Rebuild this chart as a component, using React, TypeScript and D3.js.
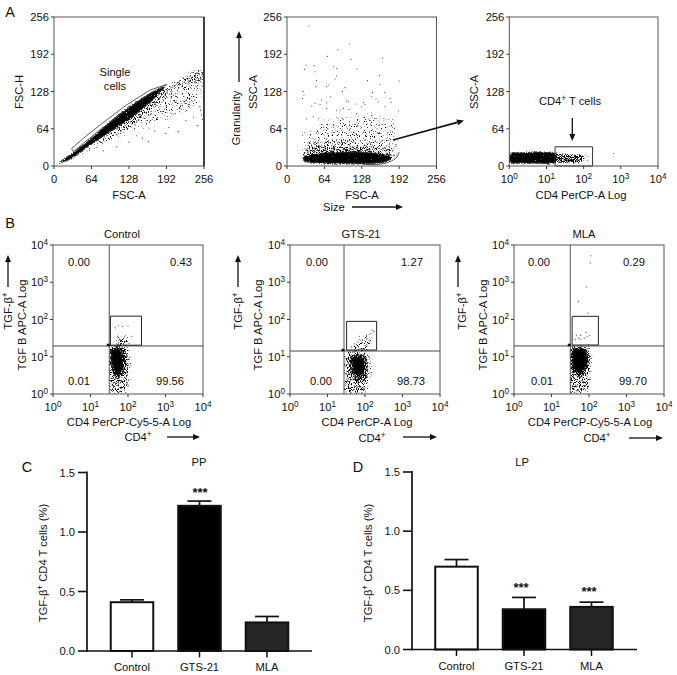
import React from "react";
import * as d3 from "d3";

type P = [number, number];
const FONT = "'Liberation Sans', Arial, sans-serif";

// ---------- linear gating plots (channel units 0-256) ----------
const channelTicks = [0, 64, 128, 192, 256];
const decadeTicks = [0, 1, 2, 3, 4];

// Panel A, FSC-A / FSC-H: outlines of the density regions
const singletGate: P[] = [[30, 30], [50, 47.5], [78.5, 70.4], [124, 105], [164, 130.6], [192, 140], [164, 125], [124, 96], [78.5, 62], [50, 39], [33, 24.6]];
const fscCore: P[] = [[4.5, 3.4], [27, 20], [67, 52], [107, 87], [147, 116], [192, 139], [164, 108], [130, 80], [96, 57], [61, 34], [27, 10]];
const fscSkirt: P[] = [[5, 3], [27, 9], [64, 26], [96, 43], [130, 62], [164, 88], [192, 116], [206, 134], [192, 140], [147, 110], [96, 60], [50, 30]];
const fscFan: P[] = [[70, 30], [110, 46], [150, 58], [190, 74], [225, 90], [254, 100], [256, 155], [235, 162], [205, 144], [170, 112], [110, 65]];
const fscTip: P[] = [[195, 140], [215, 152], [235, 163], [254, 167], [254, 140], [230, 138], [208, 130]];
const fscSparse: P[] = [[212, 59], [191, 56], [161, 42], [141, 52], [158, 73], [175, 82], [252, 88], [244, 69], [207, 90], [215, 99], [235, 113], [249, 102], [224, 108], [204, 113], [181, 102], [246, 70], [107, 33], [128, 41], [84, 26], [253, 80], [250, 96], [238, 84], [225, 78], [196, 66], [172, 60], [151, 48]];

// Panel A, FSC-A / SSC-A
const sscGate: P[] = [[128, 3], [155, 2.5], [175, 7], [188, 15], [192, 24]];
const sscCore: P[] = [[26, 12], [28, 17], [50, 22], [90, 25], [130, 25], [165, 21], [180, 14], [172, 7], [150, 3], [100, 2.5], [50, 4], [30, 7]];
const sscHeavy: P[] = [[27, 7], [27, 30], [60, 36], [100, 33], [140, 32], [180, 26], [192, 20], [185, 8], [150, 3], [60, 3]];
const sscMiddle: P[] = [[27, 12], [27, 42], [60, 50], [100, 48], [140, 46], [182, 40], [194, 30], [190, 14], [150, 8], [60, 8]];
const sscScatter: P[] = [[27, 20], [27, 60], [40, 72], [70, 86], [120, 92], [160, 92], [188, 84], [194, 50], [192, 22], [120, 16]];
const sscSparse: P[] = [[37.7, 240.5], [86.8, 199.8], [106.8, 209.6], [69.1, 188.4], [109.6, 183.2], [163.8, 185], [32.6, 173.5], [46.3, 172.4], [79.4, 170.6], [85.1, 167.8], [119.9, 166.6], [29.7, 166], [48, 162], [158.7, 155.7], [85, 154.6], [82.2, 149.4], [192.4, 146], [50.8, 146.6], [138, 146.6], [70.8, 139.1], [49.7, 136.3], [68, 136.3], [159.3, 140.3], [99.3, 134.6], [27.4, 127.7], [29.1, 122], [26.3, 116.2], [74.8, 119.1], [94.8, 127.7], [146.2, 126], [167.3, 126.5], [145, 119], [152.4, 115], [176.4, 116.2], [59.4, 113.4], [178.1, 109.4], [48, 107.6], [56.5, 105.9], [68, 108.8], [102.2, 112.2], [105, 110.5], [130.7, 109.4], [133.6, 105.9], [118.2, 106.5], [156.4, 110.5], [42.3, 103], [68, 99], [85.1, 96.2], [90.8, 96.2], [96.5, 99], [106.2, 97.3], [119.3, 90.4], [127.9, 101.9], [167.8, 101.9], [190.7, 94.5], [45.1, 84.7], [53.7, 81.9], [33.7, 80.7]];

// Panel A, CD4 / SSC-A (x in decades)
const cd4GateBox: P[] = [[1.23, 33], [2.24, 33], [2.24, 0], [1.23, 0]];
const cd4Left: P[] = [[0, 5], [0, 22], [0.4, 24], [0.9, 25], [1.25, 22], [1.25, 5], [0.7, 3.5], [0.3, 4]];
const cd4Right: P[] = [[1.2, 5], [1.2, 22], [1.6, 22], [1.95, 21], [2.05, 13], [1.95, 5], [1.5, 4]];
const cd4Sparse: P[] = [[2.8, 21.8], [2.1, 10], [2.12, 16], [2.06, 19]];

// Panel B quadrant plots (both axes in decades)
const ctrlGateX = 1.5, ctrlGateY = 1.29;
const ctrlBox: P[] = [[1.53, 2.09], [2.36, 2.09], [2.36, 1.31], [1.53, 1.31]];
const ctrlScatter: P[] = [[1.62, 1.25], [1.68, 1.58], [1.88, 1.65], [2.05, 1.52], [2.08, 1.25]];
const ctrlMedium: P[] = [[1.5, 1.3], [1.5, 0.0], [1.95, 0.0], [2.08, 0.5], [2.1, 1.0], [2.0, 1.3]];
const ctrlHeavy: P[] = [[1.55, 1.27], [1.53, 0.6], [1.7, 0.42], [1.88, 0.45], [1.98, 0.8], [1.93, 1.25]];
const ctrlCore: P[] = [[1.6, 1.23], [1.58, 0.7], [1.7, 0.55], [1.83, 0.62], [1.86, 1.0], [1.8, 1.2]];
const ctrlSparse: P[] = [[1.75, 1.83], [1.85, 1.82], [2.0, 1.83], [1.66, 1.78], [2.1, 1.55]];

const gtsGateX = 1.44, gtsGateY = 1.154;
const gtsBox: P[] = [[1.51, 1.95], [2.31, 1.95], [2.31, 1.18], [1.51, 1.18]];
const gtsScatter: P[] = [[1.55, 1.12], [1.62, 1.38], [1.88, 1.52], [2.14, 1.68], [2.2, 1.38], [2.14, 1.12]];
const gtsMedium: P[] = [[1.44, 1.15], [1.44, 0.0], [2.0, 0.0], [2.18, 0.4], [2.19, 0.9], [2.05, 1.15]];
const gtsHeavy: P[] = [[1.6, 1.06], [1.6, 0.5], [1.78, 0.32], [2.03, 0.4], [2.1, 0.8], [1.98, 1.06]];
const gtsCore: P[] = [[1.7, 0.98], [1.68, 0.64], [1.82, 0.47], [1.98, 0.58], [2.0, 0.85], [1.88, 1.0]];
const gtsSparse: P[] = [[2.2, 1.72], [2.24, 1.68], [2.16, 1.62], [1.85, 1.55], [2.05, 1.5]];

const mlaGateX = 1.5, mlaGateY = 1.29;
const mlaBox: P[] = [[1.55, 2.085], [2.25, 2.085], [2.25, 1.315], [1.55, 1.315]];
const mlaScatter: P[] = [[1.65, 1.27], [1.72, 1.38], [2.0, 1.38], [2.06, 1.27]];
const mlaMedium: P[] = [[1.49, 1.28], [1.49, 0.0], [1.95, 0.0], [2.08, 0.5], [2.1, 1.0], [2.02, 1.28]];
const mlaHeavy: P[] = [[1.52, 1.25], [1.53, 0.6], [1.7, 0.42], [1.9, 0.48], [2.02, 0.85], [1.98, 1.25]];
const mlaCore: P[] = [[1.58, 1.2], [1.57, 0.75], [1.72, 0.58], [1.9, 0.68], [1.95, 1.0], [1.88, 1.2]];
const mlaSparse: P[] = [[2.05, 3.71], [2.03, 3.52], [1.94, 2.87], [1.715, 2.48], [1.97, 2.17], [1.92, 1.655], [1.66, 1.58], [1.78, 1.58], [2.02, 1.57], [1.95, 1.55], [1.87, 1.5], [1.73, 1.5], [1.64, 1.47], [1.78, 1.47]];

// Panels C and D
const barCategories = ["Control", "GTS-21", "MLA"];
const barFills = ["#ffffff", "#000000", "#262626"];
const ppMeans = [0.41, 1.22, 0.24];
const ppUppers = [0.43, 1.26, 0.29];
const lpMeans = [0.7, 0.34, 0.36];
const lpUppers = [0.76, 0.44, 0.4];
const barTicks = [0, 0.5, 1, 1.5];

type Scale = d3.ScaleLinear<number, number>;
const closed = (x: Scale, y: Scale, pts: P[]) =>
  d3.line<P>().x(d => x(d[0])).y(d => y(d[1])).curve(d3.curveCatmullRomClosed.alpha(0.5))(pts) ?? undefined;
const straight = (x: Scale, y: Scale, pts: P[], close = true) =>
  d3.line<P>().x(d => x(d[0])).y(d => y(d[1]))(pts) + (close ? "Z" : "");
const smoothOpen = (x: Scale, y: Scale, pts: P[]) =>
  d3.line<P>().x(d => x(d[0])).y(d => y(d[1])).curve(d3.curveCatmullRom)(pts) ?? undefined;

const T = ({ x, y, size = 11.2, anchor = "middle", rot, children, weight }: any) => (
  <text x={x} y={y} fontSize={size} textAnchor={anchor} dominantBaseline="central" fontWeight={weight}
    fill="#111" transform={rot != null ? `rotate(${rot} ${x} ${y})` : undefined}>{children}</text>
);
const Sup = ({ children }: any) => <tspan dy={-3.5} fontSize={8.2}>{children}</tspan>;
const After = ({ children }: any) => <tspan dy={3.5}>{children}</tspan>;

const Arrow = ({ x1, y1, x2, y2, w = 1.3 }: any) => {
  const a = Math.atan2(y2 - y1, x2 - x1);
  const L = 7, W = 3;
  const bx = x2 - L * Math.cos(a), by = y2 - L * Math.sin(a);
  const nx = -Math.sin(a) * W, ny = Math.cos(a) * W;
  return (
    <g>
      <line x1={x1} y1={y1} x2={bx} y2={by} stroke="#111" strokeWidth={w} />
      <path d={`M${x2},${y2}L${bx + nx},${by + ny}L${bx - nx},${by - ny}Z`} fill="#111" />
    </g>
  );
};

const Frame = ({ x, y, xTicks, yTicks, xPow, yPow }: any) => {
  const [l, r] = x.range();
  const [b, t] = y.range();
  const tick = "#3a3a3a";
  return (
    <g>
      <rect x={l} y={t} width={r - l} height={b - t} fill="none" stroke="#555" strokeWidth={1} />
      {xTicks.map((v: number) => (
        <g key={v}>
          <line x1={x(v)} x2={x(v)} y1={b} y2={b + 3} stroke={tick} />
          <T x={x(v)} y={b + 13}>{xPow ? <>10<Sup>{v}</Sup></> : v}</T>
        </g>
      ))}
      {yTicks.map((v: number) => (
        <g key={v}>
          <line x1={l - 3} x2={l} y1={y(v)} y2={y(v)} stroke={tick} />
          <T x={l - 5} y={y(v)} anchor="end">{yPow ? <>10<Sup>{v}</Sup></> : v}</T>
        </g>
      ))}
    </g>
  );
};

// Stipple texture for the density regions: the coverage follows the blurred outline
const Speck = ({ id, seed, sigma, g, c = 0.85, k = 7 }: any) => (
  <filter id={id} filterUnits="userSpaceOnUse" x={0} y={0} width={677} height={675} colorInterpolationFilters="sRGB">
    <feGaussianBlur in="SourceAlpha" stdDeviation={sigma} result="b" />
    <feTurbulence type="fractalNoise" baseFrequency="0.87" numOctaves={2} seed={seed} result="n" />
    <feColorMatrix in="n" type="matrix" values="0 0 0 0 0  0 0 0 0 0  0 0 0 0 0  1 0 0 0 0" result="na" />
    <feComposite in="b" in2="na" operator="arithmetic" k1={0} k2={g} k3={1} k4={-c} result="s" />
    <feComponentTransfer in="s" result="t"><feFuncA type="linear" slope={k} intercept={0} /></feComponentTransfer>
    <feComposite in="t" in2="b" operator="in" />
  </filter>
);

const Dots = ({ x, y, pts, r = 0.6 }: any) => (
  <g fill="#333">{pts.map((d: P, i: number) => <circle key={i} cx={x(d[0])} cy={y(d[1])} r={r} />)}</g>
);

const Quadrant = ({ left, gateX, gateY, box, scatter, medium, heavy, core, sparse, seed }: any) => {
  const x = d3.scaleLinear().domain([0, 4]).range([left, left + 150]);
  const y = d3.scaleLinear().domain([0, 4]).range([394, 245]);
  return (
    <g>
      <g clipPath={`url(#q${seed})`}>
        <path d={closed(x, y, scatter)} fill="#111" filter={`url(#thin${seed})`} />
        <path d={closed(x, y, medium)} fill="#111" filter={`url(#mid${seed})`} />
        <path d={closed(x, y, heavy)} fill="#111" filter={`url(#dense${seed})`} />
        <path d={closed(x, y, core)} fill="#111" filter={`url(#solid${seed})`} />
      </g>
      <clipPath id={`q${seed}`}><rect x={x(gateX)} y={245} width={150} height={149} /></clipPath>
      <Dots x={x} y={y} pts={sparse} r={0.55} />
      <Frame x={x} y={y} xTicks={decadeTicks} yTicks={decadeTicks} xPow yPow />
      <line x1={x(gateX)} x2={x(gateX)} y1={245} y2={394} stroke="#555" strokeWidth={1} />
      <line x1={left} x2={left + 150} y1={y(gateY)} y2={y(gateY)} stroke="#444" strokeWidth={1} />
      <path d={straight(x, y, box)} fill="none" stroke="#222" strokeWidth={1} />
      <rect x={x(gateX) - 2.5} y={y(gateY) - 2.2} width={3} height={2.4} fill="#111" />
    </g>
  );
};

const Bars = ({ left, right, base, top, c1, c2, means, uppers }: any) => {
  const y = d3.scaleLinear().domain([0, 1.5]).range([base, top]);
  const step = (c2 - c1);
  const x = d3.scaleBand<string>().domain(barCategories).range([c1 - step / 2, c1 + step * 2.5]).paddingInner(0.37).paddingOuter(0.185);
  return (
    <g>
      {barCategories.map((c, i) => {
        const cx = x(c)! + x.bandwidth() / 2;
        return (
          <g key={c}>
            <line x1={cx} x2={cx} y1={y(means[i])} y2={y(uppers[i])} stroke="#111" strokeWidth={1.7} />
            <line x1={cx - 12} x2={cx + 12} y1={y(uppers[i])} y2={y(uppers[i])} stroke="#111" strokeWidth={1.7} />
            <rect x={x(c)} y={y(means[i])} width={x.bandwidth()} height={base - y(means[i])} fill={barFills[i]} stroke="#111" strokeWidth={2} />
            <line x1={cx} x2={cx} y1={base} y2={base + 6.5} stroke="#111" strokeWidth={1.5} />
            <T x={cx} y={base + 16}>{c}</T>
          </g>
        );
      })}
      <line x1={left} x2={right} y1={base} y2={base} stroke="#111" strokeWidth={1.7} />
      <line x1={left} x2={left} y1={top - 1} y2={base + 0.8} stroke="#111" strokeWidth={1.7} />
      {barTicks.map(v => (
        <g key={v}>
          <line x1={left - 9} x2={left} y1={y(v)} y2={y(v)} stroke="#111" strokeWidth={1.6} />
          <T x={left - 12} y={y(v)} anchor="end">{d3.format(".1f")(v)}</T>
        </g>
      ))}
    </g>
  );
};

export default function App() {
  const cx1 = d3.scaleLinear().domain([0, 256]).range([54, 204]);
  const cx2 = d3.scaleLinear().domain([0, 256]).range([287, 436.5]);
  const cy = d3.scaleLinear().domain([0, 256]).range([166, 17]);
  const lx3 = d3.scaleLinear().domain([0, 4]).range([509.3, 658]);
  const seeds = [1, 2, 3, 4];
  return (
    <svg width={677} height={675} viewBox="0 0 677 675"
      style={{ position: "absolute", left: 0, top: 0, fontFamily: FONT, background: "#fff" }}>
      <defs>
        {seeds.map(s => (
          <g key={s}>
            <Speck id={`vfaint${s}`} seed={s * 3} sigma={6} g={0.265} />
            <Speck id={`faint${s}`} seed={s * 5} sigma={4} g={0.3} />
            <Speck id={`thin${s}`} seed={s * 7} sigma={2.5} g={0.33} />
            <Speck id={`mid${s}`} seed={s * 11} sigma={2.5} g={0.36} />
            <Speck id={`dense${s}`} seed={s * 13} sigma={1.8} g={0.47} />
            <Speck id={`solid${s}`} seed={s * 17} sigma={1} g={0.72} />
          </g>
        ))}
        <clipPath id="a1"><rect x={54} y={17} width={150} height={150} /></clipPath>
        <clipPath id="a2"><rect x={287} y={17} width={150} height={150} /></clipPath>
        <clipPath id="a3"><rect x={509} y={17} width={150} height={150} /></clipPath>
      </defs>

      {/* A: panel 1 */}
      <T x={10} y={12} size={14.5}>A</T>
      <g clipPath="url(#a1)">
        <path d={closed(cx1, cy, fscFan)} fill="#111" filter="url(#vfaint1)" />
        <path d={closed(cx1, cy, fscTip)} fill="#111" filter="url(#mid1)" />
        <path d={closed(cx1, cy, fscSkirt)} fill="#111" filter="url(#mid2)" />
        <path d={closed(cx1, cy, fscCore)} fill="#111" filter="url(#solid1)" />
      </g>
      <Dots x={cx1} y={cy} pts={fscSparse} />
      <path d={straight(cx1, cy, singletGate)} fill="none" stroke="#333" strokeWidth={0.8} strokeLinejoin="round" />
      <Frame x={cx1} y={cy} xTicks={channelTicks} yTicks={channelTicks} />
      <line x1={204} x2={204} y1={17} y2={166} stroke="#333" strokeWidth={1.8} />
      <T x={129} y={195}>FSC-A</T>
      <T x={19} y={92} rot={-90}>FSC-H</T>
      <T x={115} y={72}>Single</T>
      <T x={115} y={86}>cells</T>

      {/* A: panel 2 */}
      <g clipPath="url(#a2)">
        <path d={closed(cx2, cy, sscScatter)} fill="#111" filter="url(#vfaint2)" />
        <path d={closed(cx2, cy, sscMiddle)} fill="#111" filter="url(#faint3)" />
        <path d={closed(cx2, cy, sscHeavy)} fill="#111" filter="url(#mid3)" />
        <path d={closed(cx2, cy, sscCore)} fill="#111" filter="url(#solid2)" />
      </g>
      <Dots x={cx2} y={cy} pts={sscSparse} r={0.55} />
      <path d={smoothOpen(cx2, cy, sscGate)} fill="none" stroke="#333" strokeWidth={0.8} />
      <Frame x={cx2} y={cy} xTicks={channelTicks} yTicks={channelTicks} />
      <T x={362} y={195}>FSC-A</T>
      <T x={253} y={92} rot={-90}>SSC-A</T>
      <T x={236} y={118} rot={-90}>Granularity</T>
      <Arrow x1={239} y1={82} x2={239} y2={31} />
      <T x={323} y={207} anchor="start">Size</T>
      <Arrow x1={352} y1={207} x2={403} y2={207} />
      <Arrow x1={393} y1={140} x2={464} y2={120.5} w={1.6} />

      {/* A: panel 3 */}
      <g clipPath="url(#a3)">
        <path d={closed(lx3, cy, cd4Left)} fill="#111" filter="url(#solid3)" />
        <path d={closed(lx3, cy, cd4Right)} fill="#111" filter="url(#dense4)" />
      </g>
      <Dots x={lx3} y={cy} pts={cd4Sparse} r={0.5} />
      <path d={straight(lx3, cy, cd4GateBox)} fill="none" stroke="#333" strokeWidth={1} />
      <Frame x={lx3} y={cy} xTicks={decadeTicks} yTicks={channelTicks} xPow />
      <T x={581} y={195}>CD4 PerCP-A Log</T>
      <T x={474} y={92} rot={-90}>SSC-A</T>
      <T x={570} y={101}>CD4<Sup>+</Sup><After> T cells</After></T>
      <Arrow x1={572.3} y1={118} x2={572.3} y2={141} />

      {/* B */}
      <T x={10} y={223} size={14.5}>B</T>
      <Quadrant left={53} gateX={ctrlGateX} gateY={ctrlGateY} box={ctrlBox} scatter={ctrlScatter} medium={ctrlMedium} heavy={ctrlHeavy} core={ctrlCore} sparse={ctrlSparse} seed={1} />
      <T x={122} y={234}>Control</T>
      <T x={79} y={262}>0.00</T><T x={181} y={262}>0.43</T>
      <T x={79} y={381}>0.01</T><T x={170} y={381}>99.56</T>
      <T x={129} y={422}>CD4 PerCP-Cy5-5-A Log</T>
      <T x={138} y={437}>CD4<Sup>+</Sup></T>
      <Arrow x1={167} y1={437} x2={200} y2={437} />
      <T x={22} y={325} rot={-90}>TGF B APC-A Log</T>
      <T x={8} y={311} rot={-90}>TGF-β<Sup>+</Sup></T>
      <Arrow x1={8} y1={287} x2={8} y2={255} />

      <Quadrant left={290} gateX={gtsGateX} gateY={gtsGateY} box={gtsBox} scatter={gtsScatter} medium={gtsMedium} heavy={gtsHeavy} core={gtsCore} sparse={gtsSparse} seed={2} />
      <T x={361} y={234}>GTS-21</T>
      <T x={317} y={262}>0.00</T><T x={412} y={262}>1.27</T>
      <T x={321} y={381}>0.00</T><T x={411} y={381}>98.73</T>
      <T x={367} y={422}>CD4 PerCP-A Log</T>
      <T x={372} y={438}>CD4<Sup>+</Sup></T>
      <Arrow x1={403} y1={437} x2={437} y2={437} />
      <T x={258} y={325} rot={-90}>TGF B APC-A Log</T>
      <T x={238} y={311} rot={-90}>TGF-β<Sup>+</Sup></T>
      <Arrow x1={238} y1={287} x2={238} y2={255} />

      <Quadrant left={514} gateX={mlaGateX} gateY={mlaGateY} box={mlaBox} scatter={mlaScatter} medium={mlaMedium} heavy={mlaHeavy} core={mlaCore} sparse={mlaSparse} seed={3} />
      <T x={584} y={234}>MLA</T>
      <T x={539} y={262}>0.00</T><T x={634} y={262}>0.29</T>
      <T x={542} y={381}>0.01</T><T x={633} y={381}>99.70</T>
      <T x={590} y={422}>CD4 PerCP-Cy5-5-A Log</T>
      <T x={597} y={438}>CD4<Sup>+</Sup></T>
      <Arrow x1={629} y1={438} x2={663} y2={438} />
      <T x={483} y={325} rot={-90}>TGF B APC-A Log</T>
      <T x={462} y={311} rot={-90}>TGF-β<Sup>+</Sup></T>
      <Arrow x1={458} y1={287} x2={458} y2={255} />

      {/* C */}
      <T x={27} y={467} size={14.5}>C</T>
      <T x={199} y={462}>PP</T>
      <Bars left={87} right={312} base={651} top={472.5} c1={132} c2={199.5} means={ppMeans} uppers={ppUppers} />
      <T x={43} y={563} rot={-90}>TGF-β<Sup>+</Sup><After> CD4 T cells (%)</After></T>
      <T x={200} y={492} size={13} weight="bold">***</T>

      {/* D */}
      <T x={358} y={467} size={14.5}>D</T>
      <T x={522} y={462}>LP</T>
      <Bars left={412} right={637} base={649.5} top={472} c1={456.5} c2={524} means={lpMeans} uppers={lpUppers} />
      <T x={368} y={563} rot={-90}>TGF-β<Sup>+</Sup><After> CD4 T cells (%)</After></T>
      <T x={521} y={587} size={13} weight="bold">***</T>
      <T x={589} y={591} size={13} weight="bold">***</T>
    </svg>
  );
}
